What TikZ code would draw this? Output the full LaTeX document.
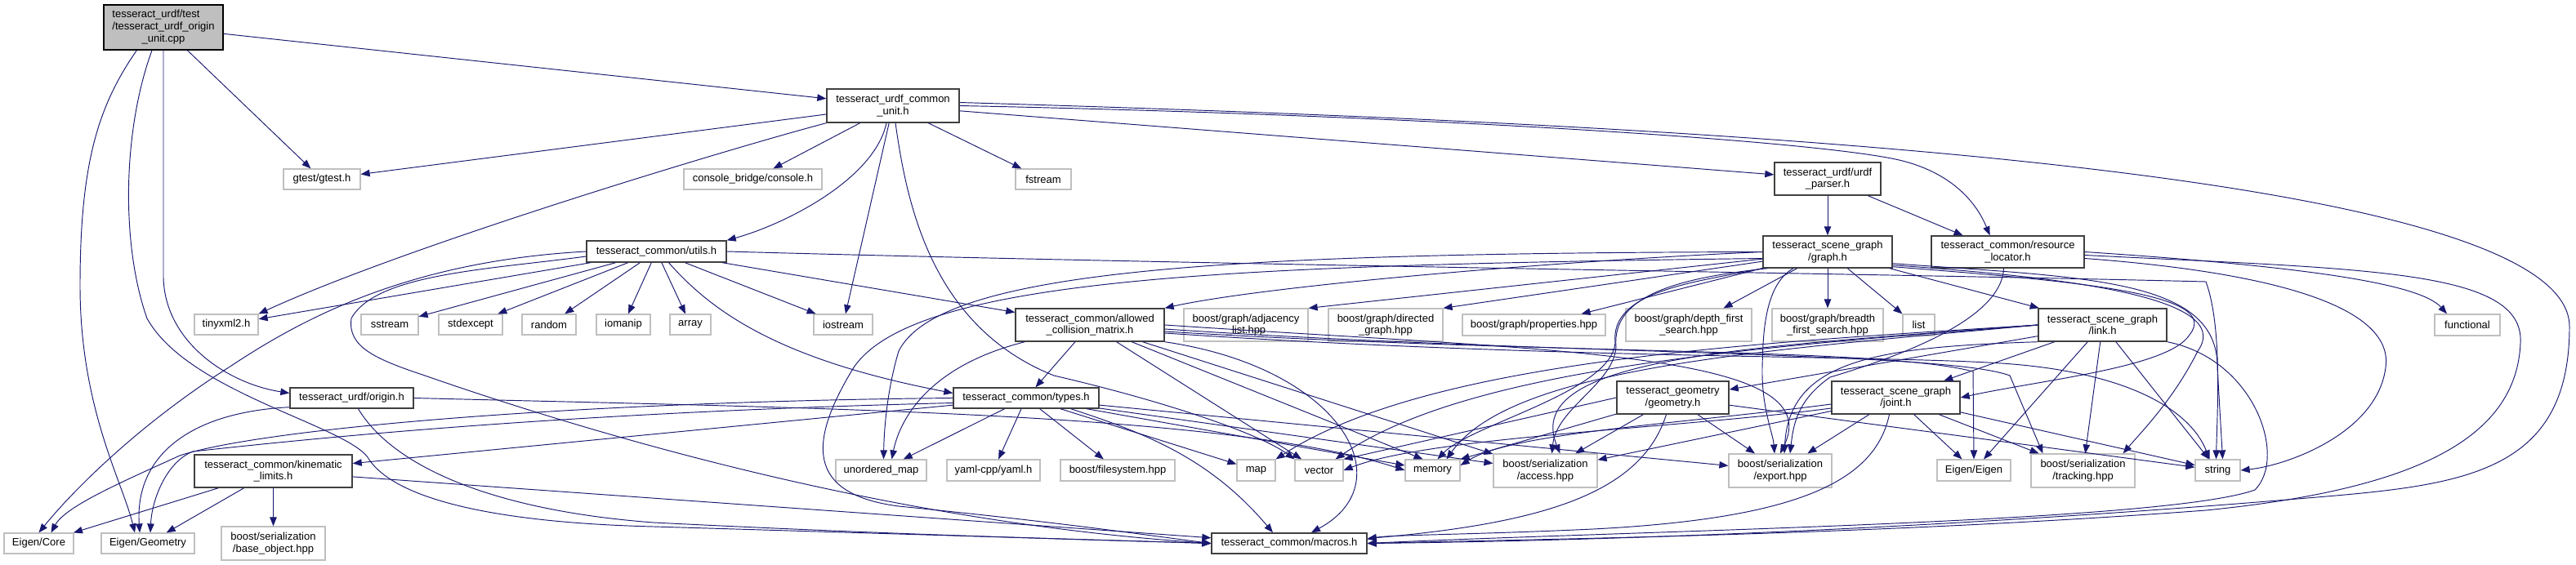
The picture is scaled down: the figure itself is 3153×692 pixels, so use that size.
\documentclass[tikz,border=0pt]{standalone}
\usepackage{fontspec}
\setmainfont{Liberation Sans}
\usetikzlibrary{arrows.meta,calc}
\definecolor{edgeblue}{HTML}{191970}
\definecolor{gdark}{HTML}{404040}
\definecolor{glight}{HTML}{BFBFBF}
\begin{document}
\begin{tikzpicture}[x=1pt,y=-1pt,
  every node/.style={font=\fontsize{13}{14.7}\selectfont, inner sep=0pt, align=center},
  doc/.style={draw=gdark, line width=1.4pt, fill=white},
  ext/.style={draw=glight, line width=1.2pt, fill=white},
  rootn/.style={draw=black, line width=1.4pt, fill=glight},
  dep/.style={draw=edgeblue, line width=0.95pt, -{Triangle[length=11pt,width=8.5pt]}}
]
\useasboundingbox (0,0) rectangle (3153,692);
\fill[white] (0,0) rectangle (3153,692);
% ---------------- nodes
\node[rootn, minimum width=146pt, minimum height=55pt] (root) at (200,33.5)
  {\begin{tabular}{@{}l@{}}tesseract\_urdf/test\\/tesseract\_urdf\_origin\\\multicolumn{1}{@{}c@{}}{\_unit.cpp}\end{tabular}};
\node[doc, minimum width=162pt, minimum height=41pt] (CU) at (1093,129.5) {tesseract\_urdf\_common\\\_unit.h};
\node[ext, minimum width=94pt, minimum height=25pt] (gtest) at (394,219.5) {gtest/gtest.h};
\node[ext, minimum width=169pt, minimum height=25pt] (console) at (921.5,219.5) {console\_bridge/console.h};
\node[ext, minimum width=68pt, minimum height=25pt] (fstream) at (1277,219.5) {fstream};
\node[doc, minimum width=130pt, minimum height=40pt] (urdf) at (2237,219) {tesseract\_urdf/urdf\\\_parser.h};
\node[doc, minimum width=158pt, minimum height=39pt] (graph) at (2237,308.5) {tesseract\_scene\_graph\\/graph.h};
\node[doc, minimum width=187pt, minimum height=39pt] (RL) at (2457.5,308.5) {tesseract\_common/resource\\\_locator.h};
\node[doc, minimum width=171pt, minimum height=26pt] (utils) at (803.5,308) {tesseract\_common/utils.h};
\node[ext, minimum width=78pt, minimum height=25pt] (tinyxml) at (277,397.5) {tinyxml2.h};
\node[ext, minimum width=70pt, minimum height=25pt] (sstream) at (477,397.5) {sstream};
\node[ext, minimum width=78pt, minimum height=25pt] (stdexcept) at (576,397.5) {stdexcept};
\node[ext, minimum width=66pt, minimum height=25pt] (random) at (672,397.5) {random};
\node[ext, minimum width=66pt, minimum height=25pt] (iomanip) at (763,397.5) {iomanip};
\node[ext, minimum width=50pt, minimum height=25pt] (array) at (845,397.5) {array};
\node[ext, minimum width=72pt, minimum height=25pt] (iostream) at (1032,397.5) {iostream};
\node[doc, minimum width=182pt, minimum height=40pt] (ACM) at (1334,398) {tesseract\_common/allowed\\\_collision\_matrix.h};
\node[ext, minimum width=152pt, minimum height=40pt] (adj) at (1525,398) {boost/graph/adjacency\\\_list.hpp};
\node[ext, minimum width=140pt, minimum height=40pt] (directed) at (1696,398) {boost/graph/directed\\\_graph.hpp};
\node[ext, minimum width=175pt, minimum height=26pt] (props) at (1877.5,398) {boost/graph/properties.hpp};
\node[ext, minimum width=154pt, minimum height=40pt] (dfs) at (2067,398) {boost/graph/depth\_first\\\_search.hpp};
\node[ext, minimum width=136pt, minimum height=40pt] (bfs) at (2237,398) {boost/graph/breadth\\\_first\_search.hpp};
\node[ext, minimum width=39pt, minimum height=26pt] (list) at (2348.5,398) {list};
\node[doc, minimum width=157pt, minimum height=40pt] (link) at (2573.5,398) {tesseract\_scene\_graph\\/link.h};
\node[ext, minimum width=80pt, minimum height=26pt] (functional) at (3020,398) {functional};
\node[doc, minimum width=151pt, minimum height=25pt] (origin) at (430.5,487.5) {tesseract\_urdf/origin.h};
\node[doc, minimum width=178pt, minimum height=25pt] (types) at (1256,487.5) {tesseract\_common/types.h};
\node[doc, minimum width=137pt, minimum height=40pt] (geometry) at (2047.5,487) {tesseract\_geometry\\/geometry.h};
\node[doc, minimum width=157pt, minimum height=40pt] (joint) at (2320.5,487) {tesseract\_scene\_graph\\/joint.h};
\node[doc, minimum width=193pt, minimum height=40pt] (kin) at (334.5,577) {tesseract\_common/kinematic\\\_limits.h};
\node[ext, minimum width=111pt, minimum height=26pt] (umap) at (1078.5,576) {unordered\_map};
\node[ext, minimum width=114pt, minimum height=26pt] (yaml) at (1216,576) {yaml-cpp/yaml.h};
\node[ext, minimum width=140pt, minimum height=26pt] (fs) at (1368,576) {boost/filesystem.hpp};
\node[ext, minimum width=47pt, minimum height=26pt] (map) at (1537.5,576) {map};
\node[ext, minimum width=59pt, minimum height=26pt] (vector) at (1614.5,576) {vector};
\node[ext, minimum width=67pt, minimum height=26pt] (memory) at (1753.5,576) {memory};
\node[ext, minimum width=127pt, minimum height=41pt] (access) at (1891.5,576.5) {boost/serialization\\/access.hpp};
\node[ext, minimum width=126pt, minimum height=41pt] (export) at (2179,576.5) {boost/serialization\\/export.hpp};
\node[ext, minimum width=90pt, minimum height=26pt] (eigen) at (2416,576) {Eigen/Eigen};
\node[ext, minimum width=127pt, minimum height=41pt] (tracking) at (2549.5,576.5) {boost/serialization\\/tracking.hpp};
\node[ext, minimum width=55pt, minimum height=26pt] (string) at (2714.5,576) {string};
\node[ext, minimum width=85pt, minimum height=25pt] (ecore) at (47.5,665.5) {Eigen/Core};
\node[ext, minimum width=114pt, minimum height=25pt] (egeo) at (181,665.5) {Eigen/Geometry};
\node[ext, minimum width=127pt, minimum height=41pt] (baseobj) at (334.5,665.5) {boost/serialization\\/base\_object.hpp};
\node[doc, minimum width=190pt, minimum height=25pt] (macros) at (1578,665.5) {tesseract\_common/macros.h};
% ---------------- edges: root
\draw[dep] (root) -- (CU);
\draw[dep] (root) -- (gtest);
\draw[dep] (root.south) -- (200,340) .. controls (202,420) and (280,470) .. ($(origin.west)+(0,-6)$);
\draw[dep] ($(root.south west)+(41,0)$) .. controls (120,130) and (98,200) .. (98,350) .. controls (98,500) and (150,590) .. ($(egeo.north)+(-16,0)$);
\draw[dep] ($(root.south)+(-14,0)$) .. controls (150,160) and (148,300) .. (180,390) .. controls (230,480) and (420,520) .. (450,560) .. controls (480,610) and (600,640) .. (800,645) -- (macros.west);
% CU
\draw[dep] (CU) -- (gtest);
\draw[dep] (CU) -- (console);
\draw[dep] (CU) -- (fstream);
\draw[dep] ($(CU.south)+(-8,0)$) .. controls (1070,220) and (960,275) .. (utils.north east);
\draw[dep] (CU.south west) .. controls (900,180) and (500,300) .. (tinyxml.north east);
\draw[dep] (CU) -- (iostream);
\draw[dep] ($(CU.south)+(3,0)$) .. controls (1110,250) and (1140,400) .. (1290,460) .. controls (1420,490) and (1540,530) .. (vector.north west);
\draw[dep] (CU) -- (urdf);
\draw[dep] (CU.east) .. controls (1700,140) and (2200,170) .. (2320,195) .. controls (2390,210) and (2420,250) .. ($(RL.north)+(-22,0)$);
\draw[dep] ($(CU.east)+(0,-4)$) .. controls (2000,150) and (3145,200) .. (3145,400) .. controls (3145,590) and (3000,595) .. (2800,612) .. controls (2400,645) and (2000,662) .. (macros.east);
% urdf
\draw[dep] (urdf) -- (graph);
\draw[dep] (urdf) -- ($(RL.north)+(-55,0)$);
% utils
\draw[dep] (utils) -- (tinyxml);
\draw[dep] (utils.west) .. controls (500,320) and (370,390) .. (280,450) .. controls (170,520) and (90,600) .. (ecore.north);
\draw[dep] (utils) -- (sstream);
\draw[dep] (utils) -- (stdexcept);
\draw[dep] (utils) -- (random);
\draw[dep] (utils) -- (iomanip);
\draw[dep] (utils) -- (array);
\draw[dep] (utils) -- (iostream);
\draw[dep] ($(utils.south)+(15,0)$) .. controls (870,380) and (950,440) .. ($(types.west)+(0,-6)$);
\draw[dep] (utils) -- (ACM);
\draw[dep] ($(utils.west)+(0,6)$) .. controls (600,330) and (460,335) .. (430,390) .. controls (425,425) and (460,440) .. (520,460) .. controls (750,540) and (1100,640) .. (macros.west);
\draw[dep] (utils.east) .. controls (1500,325) and (2300,335) .. (2700,345) .. controls (2720,400) and (2714,500) .. ($(string.north)+(-2,0)$);
% origin
\draw[dep] ($(origin.south west)+(0,-2)$) .. controls (230,505) and (165,560) .. ($(egeo.north)+(-10,0)$);
\draw[dep] ($(origin.south)+(8,0)$) .. controls (480,570) and (600,625) .. (800,640) .. controls (1100,655) and (1300,660) .. (macros.west);
\draw[dep] (origin.east) .. controls (1000,500) and (1500,505) .. (memory.west);
% kinematic limits
\draw[dep] (kin) -- (ecore);
\draw[dep] (kin) -- (egeo);
\draw[dep] (kin) -- (baseobj);
\draw[dep] (kin) -- (macros);
% allowed collision matrix
\draw[dep] (ACM) -- (types);
\draw[dep] ($(ACM.south west)+(12,0)$) .. controls (1130,450) and (1100,520) .. ($(umap.north)+(13,0)$);
\draw[dep] (ACM) -- (vector);
\draw[dep] (ACM) -- ($(memory.north)+(-12,0)$);
\draw[dep] (ACM.south east) .. controls (1640,450) and (1720,590) .. ($(macros.north)+(27,0)$);
\draw[dep] (ACM) -- (access);
\draw[dep] (ACM.east) .. controls (1900,430) and (2240,430) .. (export.north);
\draw[dep] ($(ACM.east)+(0,5)$) .. controls (1900,435) and (2380,430) .. (2460,460) -- ($(tracking.north west)+(15,0)$);
\draw[dep] ($(ACM.east)+(0,8)$) .. controls (1900,435) and (2300,425) .. (2415,455) -- (eigen.north);
\draw[dep] ($(ACM.east)+(0,10)$) .. controls (1900,440) and (2300,435) .. (2450,445) .. controls (2600,455) and (2680,500) .. ($(string.north)+(-10,0)$);
% types
\draw[dep] (types.west) .. controls (700,492) and (320,525) .. (220,558) .. controls (150,590) and (80,620) .. ($(ecore.north)+(15,0)$);
\draw[dep] ($(types.west)+(0,6)$) .. controls (700,505) and (400,535) .. (236,553) .. controls (205,565) and (186,610) .. ($(egeo.north)+(3,0)$);
\draw[dep] (types) -- (kin);
\draw[dep] (types) -- (umap);
\draw[dep] (types) -- (yaml);
\draw[dep] (types) -- (fs);
\draw[dep] (types) -- (map);
\draw[dep] ($(types.south east)+(-35,0)$) .. controls (1400,530) and (1480,560) .. ($(macros.north)+(-20,0)$);
\draw[dep] (types) -- (memory);
\draw[dep] (types) -- (access);
\draw[dep] (types) -- (export);
% graph
\draw[dep] (graph) -- (adj.north east);
\draw[dep] (graph) -- (directed.north east);
\draw[dep] (graph) -- ($(props.north east)+(-30,0)$);
\draw[dep] (graph) -- ($(dfs.north east)+(-35,0)$);
\draw[dep] (graph) -- (bfs);
\draw[dep] (graph) -- (list.north west);
\draw[dep] (graph) -- (link);
\draw[dep] ($(graph.south east)+(0,-2)$) .. controls (2550,345) and (2720,360) .. (2680,410) .. controls (2655,450) and (2500,465) .. (joint.east);
\draw[dep] (graph.west) .. controls (1900,320) and (1550,350) .. (ACM.north east);
\draw[dep] (graph.west) .. controls (1500,310) and (1150,330) .. (1100,430) .. controls (1085,480) and (1082,530) .. ($(umap.north)+(3,0)$);
\draw[dep] ($(graph.west)+(0,8)$) .. controls (1500,325) and (1120,340) .. (1045,450) .. controls (990,540) and (985,605) .. (1100,620) .. controls (1300,640) and (1400,655) .. (macros.west);
\draw[dep] (graph.south west) .. controls (2080,345) and (1970,355) .. (1977,420) .. controls (1972,480) and (1800,520) .. ($(memory.north)+(6,0)$);
\draw[dep] ($(graph.south west)+(6,0)$) .. controls (2060,340) and (1972,360) .. (1978,425) .. controls (1975,470) and (1905,500) .. ($(access.north)+(8,0)$);
\draw[dep] ($(graph.south)+(-42,0)$) .. controls (2157,350) and (2158,420) .. (2157,450) .. controls (2156,500) and (2170,530) .. ($(export.north)+(-7,0)$);
\draw[dep] ($(graph.south east)+(0,-6)$) .. controls (2550,340) and (2715,340) .. (2714,450) -- ($(string.north)+(6,0)$);
\draw[dep] ($(graph.south east)+(0,-4)$) .. controls (2500,338) and (2740,360) .. (2690,430) .. controls (2660,490) and (2620,530) .. ($(tracking.north east)+(-15,0)$);
% link
\draw[dep] (link) -- (joint);
\draw[dep] (link) -- ($(geometry.east)+(0,-10)$);
\draw[dep] (link) -- (eigen);
\draw[dep] (link) -- (tracking);
\draw[dep] (link) -- (string);
\draw[dep] (link.south east) .. controls (2760,440) and (2800,560) .. (2760,600) .. controls (2650,640) and (2000,650) .. (macros.east);
\draw[dep] (link.west) .. controls (2150,420) and (1750,440) .. (map.north east);
\draw[dep] (link.west) .. controls (2150,425) and (1800,450) .. ($(vector.north east)+(-10,0)$);
\draw[dep] (link.west) .. controls (2150,430) and (1850,450) .. ($(memory.north)+(17,0)$);
\draw[dep] (link.west) .. controls (2150,425) and (1860,435) .. ($(access.north)+(18,0)$);
\draw[dep] (link.south west) .. controls (2300,425) and (2190,440) .. ($(export.north)+(5,0)$);
% joint
\draw[dep] (joint) -- (eigen);
\draw[dep] (joint) -- (tracking);
\draw[dep] (joint) -- (string);
\draw[dep] (joint) -- (export);
\draw[dep] (joint) -- (access);
\draw[dep] ($(joint.west)+(0,8)$) .. controls (2050,520) and (1850,530) .. ($(memory.east)+(0,-6)$);
\draw[dep] ($(joint.west)+(0,13)$) .. controls (2050,525) and (1750,535) .. (vector.east);
\draw[dep] ($(joint.south)+(-8,0)$) .. controls (2295,590) and (2200,635) .. (1950,648) .. controls (1800,655) and (1700,655) .. ($(macros.east)+(0,-5)$);
% geometry
\draw[dep] (geometry) -- (access);
\draw[dep] (geometry) -- (export);
\draw[dep] (geometry) -- (memory.north east);
\draw[dep] (geometry.west) -- (vector.north east);
\draw[dep] ($(geometry.south)+(-8,0)$) .. controls (2010,600) and (1900,640) .. ($(macros.east)+(0,-6)$);
\draw[dep] (geometry) -- (string);
% resource locator
\draw[dep] (RL.east) .. controls (2800,325) and (2960,345) .. ($(functional.north)+(-25,0)$);
\draw[dep] ($(RL.east)+(0,8)$) .. controls (2800,335) and (2930,380) .. (2920,450) .. controls (2910,530) and (2800,570) .. (string.east);
\draw[dep] ($(RL.east)+(0,4)$) .. controls (2900,330) and (3090,330) .. (3085,420) .. controls (3080,540) and (2950,600) .. (2700,625) .. controls (2300,655) and (1900,660) .. (macros.east);
\draw[dep] ($(RL.south)+(-5,0)$) .. controls (2450,390) and (2330,435) .. (2240,462) .. controls (2200,490) and (2195,520) .. ($(export.north)+(12,0)$);
\end{tikzpicture}
\end{document}
